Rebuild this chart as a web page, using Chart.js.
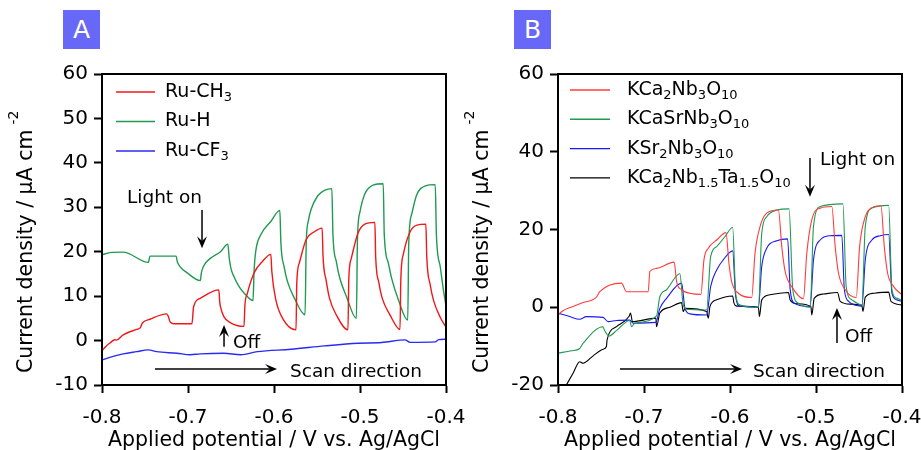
<!DOCTYPE html>
<html>
<head>
<meta charset="utf-8">
<title>Photocurrent under chopped light</title>
<script src="https://cdn.jsdelivr.net/npm/chart.js@4.4.1/dist/chart.umd.min.js"></script>
<style>
  body { margin: 0; background: #fff; }
  .panel { position: absolute; left: 0; top: 0; width: 921px; height: 450px; }
  .badge { position: absolute; top: 10px; width: 37px; height: 39px; background: #6868f8;
           color: #fff; font: 25px "DejaVu Sans", sans-serif; text-align: center; line-height: 39px; }
</style>
</head>
<body>
<div class="panel"><canvas id="chartA"></canvas></div>
<div class="panel"><canvas id="chartB"></canvas></div>
<div class="badge" style="left:63px">A</div>
<div class="badge" style="left:514px">B</div>

<script>
// Axis ticks (shared x, separate y for each panel)
const potentialTicks = [-0.8, -0.7, -0.6, -0.5, -0.4];
const potentialLabels = ['-0.8', '-0.7', '-0.6', '-0.5', '-0.4'];
const currentTicksA = [-10, 0, 10, 20, 30, 40, 50, 60];
const currentTicksB = [-20, 0, 20, 40, 60];

// Panel A: [potential V, current density uA cm-2]
const ruCH3 = [
    [-0.800, -2.3], [-0.795, -1.2], [-0.791, -0.6], [-0.785, 0.2], [-0.7832, 0.1], [-0.7754, 1.3],
    [-0.760, 2.5], [-0.7559, 2.8], [-0.7528, 4.0], [-0.7442, 4.8], [-0.7247, 6.0], [-0.7230, 5.5],
    [-0.7208, 4.2], [-0.7169, 3.8], [-0.6954, 3.8],
    [-0.6935, 7.6], [-0.6857, 9.5], [-0.6642, 11.4],
    [-0.6630, 8.5], [-0.6622, 7.6], [-0.6583, 5.4], [-0.6505, 4.0], [-0.6349, 3.2],
    [-0.6338, 8.0], [-0.6310, 10.6], [-0.6232, 15.2], [-0.6135, 17.8], [-0.6037, 19.4],
    [-0.6025, 15.5], [-0.5979, 9.2], [-0.5900, 5.0], [-0.5744, 2.4],
    [-0.5735, 13.0], [-0.5705, 17.5], [-0.5627, 22.7], [-0.5530, 24.5], [-0.5440, 25.3],
    [-0.5430, 19.0], [-0.5393, 13.5], [-0.5354, 9.5], [-0.5276, 5.8], [-0.5140, 2.4],
    [-0.5130, 14.0], [-0.5101, 18.5], [-0.5023, 24.2], [-0.4944, 26.2], [-0.4827, 26.6],
    [-0.4818, 19.0], [-0.4780, 13.0], [-0.4741, 9.5], [-0.4652, 5.8], [-0.4535, 2.5],
    [-0.4525, 14.0], [-0.4495, 19.5], [-0.4417, 24.5], [-0.4339, 26.0], [-0.4234, 26.2],
    [-0.4224, 19.0], [-0.4183, 12.5], [-0.4144, 9.0], [-0.4066, 5.2], [-0.4000, 3.0]
];
const ruH = [
    [-0.800, 19.3], [-0.791, 19.8], [-0.7754, 19.9], [-0.7461, 17.6], [-0.7442, 19.0], [-0.7138, 19.0],
    [-0.7125, 17.8], [-0.7091, 16.6], [-0.7013, 15.3], [-0.6857, 13.5],
    [-0.6845, 15.2], [-0.6818, 16.8], [-0.6740, 18.5], [-0.6622, 20.0], [-0.6537, 21.7],
    [-0.6520, 18.5], [-0.6500, 16.2], [-0.6466, 14.4], [-0.6408, 12.2], [-0.6330, 10.3], [-0.6244, 9.0],
    [-0.6232, 15.5], [-0.6213, 20.0], [-0.6154, 23.8], [-0.6037, 26.8], [-0.5932, 29.3],
    [-0.5920, 22.0], [-0.5881, 16.5], [-0.5842, 13.2], [-0.5764, 9.6], [-0.5639, 5.8],
    [-0.5625, 22.0], [-0.5600, 27.0], [-0.5569, 29.5], [-0.5491, 32.6], [-0.5413, 33.8], [-0.5327, 34.2],
    [-0.5315, 24.0], [-0.5276, 17.8], [-0.5237, 14.2], [-0.5159, 10.0], [-0.5042, 5.0],
    [-0.5030, 22.5], [-0.5000, 29.0], [-0.4944, 33.0], [-0.4847, 35.0], [-0.4730, 35.3],
    [-0.4718, 24.0], [-0.4671, 17.5], [-0.4632, 14.0], [-0.4554, 9.2], [-0.4445, 4.6],
    [-0.4433, 22.0], [-0.4398, 28.5], [-0.4340, 32.8], [-0.4242, 34.8], [-0.4125, 35.1],
    [-0.4112, 24.0], [-0.4066, 16.5], [-0.4027, 11.0], [-0.4000, 7.8]
];
const ruCF3 = [
    [-0.800, -4.4], [-0.791, -3.8], [-0.7754, -3.0], [-0.7598, -2.5], [-0.7461, -2.1], [-0.7364, -2.5],
    [-0.7130, -2.85], [-0.6974, -3.2], [-0.6857, -3.0], [-0.6583, -2.85], [-0.6388, -3.2], [-0.6193, -2.5],
    [-0.5803, -1.95], [-0.5413, -1.2], [-0.5023, -0.6], [-0.4749, -0.45], [-0.4476, 0.15], [-0.4417, -0.4],
    [-0.4125, -0.3], [-0.4086, 0.2], [-0.4000, 0.3]
];

// Panel B
const kCa2Nb3O10 = [
    [-0.800, -2.0], [-0.7942, -0.9], [-0.7825, 0.2], [-0.7709, 1.2], [-0.7553, 2.6], [-0.7515, 4.0],
    [-0.7262, 6.2], [-0.7204, 4.0], [-0.6951, 4.0],
    [-0.6932, 9.2], [-0.6854, 10.0], [-0.6649, 11.6],
    [-0.6621, 6.6], [-0.6563, 4.5], [-0.6466, 3.6], [-0.6338, 3.3],
    [-0.6303, 12.2], [-0.6252, 15.2], [-0.6155, 17.3], [-0.6047, 19.2],
    [-0.6012, 11.3], [-0.5981, 6.6], [-0.5903, 3.6], [-0.5748, 2.5],
    [-0.5709, 13.9], [-0.5650, 20.8], [-0.5573, 24.2], [-0.5437, 25.0],
    [-0.5398, 15.6], [-0.5359, 9.2], [-0.5282, 5.3], [-0.5146, 2.2],
    [-0.5107, 13.9], [-0.5049, 22.5], [-0.4951, 25.5], [-0.4816, 25.9],
    [-0.4777, 15.6], [-0.4738, 8.75], [-0.4660, 4.5], [-0.4532, 2.5],
    [-0.4493, 15.6], [-0.4427, 23.3], [-0.4350, 25.6], [-0.4245, 26.1],
    [-0.4206, 15.6], [-0.4167, 8.75], [-0.4097, 5.3], [-0.4000, 3.2]
];
const kCaSrNb3O10 = [
    [-0.800, -11.8], [-0.7845, -11.2], [-0.7748, -10.6], [-0.7709, -9.3], [-0.7476, -5.0], [-0.7464, -5.7],
    [-0.7406, -7.4], [-0.7320, -6.0], [-0.7165, -3.4], [-0.7146, -5.0], [-0.7107, -4.1], [-0.6854, -2.2],
    [-0.6816, 2.7], [-0.6738, 4.5], [-0.6583, 8.6],
    [-0.6544, 0.6], [-0.6505, -0.5], [-0.6272, -0.7],
    [-0.6225, 13.0], [-0.6155, 15.6], [-0.6058, 18.2], [-0.5969, 20.5],
    [-0.5934, 3.6], [-0.5883, 0.6], [-0.5670, 0.0],
    [-0.5631, 19.0], [-0.5573, 23.3], [-0.5456, 25.0], [-0.5313, 25.3],
    [-0.5270, 4.5], [-0.5204, 1.0], [-0.5068, 0.0],
    [-0.5029, 20.8], [-0.4951, 25.9], [-0.4687, 26.6],
    [-0.4649, 5.3], [-0.4583, 1.9], [-0.4466, 0.6],
    [-0.4427, 20.8], [-0.4350, 25.5], [-0.4155, 26.2],
    [-0.4117, 4.5], [-0.4058, 2.3], [-0.4000, 1.7]
];
const kSr2Nb3O10 = [
    [-0.800, -1.5], [-0.7864, -2.4], [-0.7748, -3.1], [-0.7670, -2.4], [-0.7476, -2.6], [-0.7417, -3.7],
    [-0.7320, -3.4], [-0.7165, -3.3], [-0.7126, -4.1], [-0.6862, -3.9],
    [-0.6816, -0.3], [-0.6738, 2.3], [-0.6563, 6.2],
    [-0.6524, -0.3], [-0.6466, -1.7], [-0.6272, -2.0],
    [-0.6225, 5.3], [-0.6155, 9.6], [-0.6078, 12.2], [-0.5969, 14.5],
    [-0.5934, 2.7], [-0.5883, 0.3], [-0.5670, 0.0],
    [-0.5631, 10.5], [-0.5573, 15.2], [-0.5456, 17.1], [-0.5330, 17.6],
    [-0.5300, 4.5], [-0.5250, 1.0], [-0.5068, 0.2],
    [-0.5029, 12.2], [-0.4951, 17.3], [-0.4835, 18.4], [-0.4700, 18.5],
    [-0.4670, 4.5], [-0.4620, 1.5], [-0.4466, 0.3],
    [-0.4427, 12.2], [-0.4350, 17.3], [-0.4252, 18.4], [-0.4155, 18.7],
    [-0.4117, 3.6], [-0.4058, 1.9], [-0.4000, 1.5]
];
const kCa2NbTaO10 = [
    [-0.7903, -20.0], [-0.7825, -17.0], [-0.7748, -14.0], [-0.7709, -14.4], [-0.7592, -12.5],
    [-0.7476, -10.8], [-0.7437, -10.1], [-0.7429, -8.4], [-0.7320, -5.0], [-0.7173, -2.3],
    [-0.7157, -1.5], [-0.7134, -3.7], [-0.6862, -2.8], [-0.6854, -5.0],
    [-0.6816, -1.5], [-0.6699, 0.0], [-0.6563, 1.2],
    [-0.6544, -1.1], [-0.6524, -0.3], [-0.6272, -1.1], [-0.6252, -2.8],
    [-0.6233, 0.2], [-0.6155, 1.9], [-0.5969, 2.9],
    [-0.5953, 1.0], [-0.5922, 0.3], [-0.5670, 0.0], [-0.5658, -2.4],
    [-0.5631, 1.9], [-0.5534, 3.2], [-0.5320, 3.8],
    [-0.5301, 1.9], [-0.5223, 0.9], [-0.5060, 0.2], [-0.5049, -2.0],
    [-0.5021, 2.3], [-0.4913, 3.4], [-0.4750, 3.8],
    [-0.4719, 1.5], [-0.4602, 0.8], [-0.4466, 0.4], [-0.4454, -1.1],
    [-0.4427, 2.6], [-0.4330, 3.6], [-0.4155, 3.9],
    [-0.4128, 1.5], [-0.4000, 0.6]
];

Chart.defaults.font.family = '"DejaVu Sans", Verdana, sans-serif';
Chart.defaults.color = '#000';

/**
 * Draw text where _{..} is a subscript and ^{..} a superscript
 */
function drawRich(ctx, text, x, y, size) {
    const parts = text.split(/([_^]\{[^}]*\})/).filter(Boolean);
    let cx = x;
    parts.forEach((p) => {
        const sub = p.startsWith('_{');
        const sup = p.startsWith('^{');
        const s = sub || sup ? p.slice(2, -1) : p;
        const fs = sub || sup ? Math.round(size * 0.7) : size;
        ctx.font = `${fs}px "DejaVu Sans"`;
        if (sup) cx += 5;
        const dy = sub ? size * 0.3 : sup ? -size * 0.62 : 0;
        ctx.fillText(s, cx, y + dy);
        cx += ctx.measureText(s).width;
    });
}

function drawArrow(ctx, x1, y1, x2, y2) {
    const ang = Math.atan2(y2 - y1, x2 - x1);
    const len = 12, half = 5;
    ctx.beginPath();
    ctx.moveTo(x1, y1);
    ctx.lineTo(x2 - Math.cos(ang) * len * 0.6, y2 - Math.sin(ang) * len * 0.6);
    ctx.stroke();
    ctx.save();
    ctx.translate(x2, y2);
    ctx.rotate(ang);
    ctx.beginPath();
    ctx.moveTo(0, 0);
    ctx.lineTo(-len, -half);
    ctx.lineTo(-len * 0.6, 0);
    ctx.lineTo(-len, half);
    ctx.closePath();
    ctx.fill();
    ctx.restore();
}

/**
 * Frame, legend with subscripts, axis titles and the light on/off notes
 */
function decor(cfg) {
    return {
        id: 'decor',
        afterDraw(chart) {
            const { ctx, chartArea: a, scales: { x, y } } = chart;
            ctx.save();
            ctx.strokeStyle = '#000';
            ctx.fillStyle = '#000';
            ctx.lineWidth = 2;
            ctx.strokeRect(a.left, a.top, a.right - a.left, a.bottom - a.top);

            // legend
            ctx.textBaseline = 'middle';
            ctx.textAlign = 'left';
            cfg.series.forEach((s, i) => {
                const ly = a.top + cfg.legend.top + i * cfg.legend.gap;
                ctx.strokeStyle = s.color;
                ctx.lineWidth = 1.4;
                ctx.beginPath();
                ctx.moveTo(a.left + cfg.legend.x0, ly);
                ctx.lineTo(a.left + cfg.legend.x1, ly);
                ctx.stroke();
                ctx.fillStyle = '#000';
                drawRich(ctx, s.label, a.left + cfg.legend.tx, ly, 19);
            });

            // notes and arrows
            ctx.strokeStyle = '#000';
            ctx.lineWidth = 1.5;
            cfg.notes.forEach((n) => {
                ctx.font = '18.5px "DejaVu Sans"';
                ctx.fillText(n.text, x.getPixelForValue(n.x), y.getPixelForValue(n.y));
                const [x1, y1, x2, y2] = n.arrow;
                drawArrow(ctx, x.getPixelForValue(x1), y.getPixelForValue(y1),
                    x.getPixelForValue(x2), y.getPixelForValue(y2));
            });

            // axis titles
            ctx.font = '20.5px "DejaVu Sans"';
            ctx.textAlign = 'center';
            ctx.textBaseline = 'alphabetic';
            ctx.fillText('Applied potential / V vs. Ag/AgCl', (a.left + a.right) / 2, 446);
            ctx.save();
            ctx.translate(a.left - 75, 373);
            ctx.rotate(-Math.PI / 2);
            ctx.textAlign = 'left';
            ctx.textBaseline = 'middle';
            drawRich(ctx, 'Current density / µA cm^{-2}', 0, 0, 20.5);
            ctx.restore();
            ctx.restore();
        },
    };
}

function makeChart(canvasId, cfg) {
    return new Chart(document.getElementById(canvasId), {
        type: 'line',
        data: {
            datasets: cfg.series.map((s) => ({
                label: s.label,
                data: s.points.map(([v, j]) => ({ x: v, y: j })),
                borderColor: s.color,
                borderWidth: cfg.lineWidth,
                pointRadius: 0,
                fill: false,
                cubicInterpolationMode: 'monotone',
            })),
        },
        options: {
            responsive: true,
            maintainAspectRatio: false,
            animation: false,
            layout: { padding: cfg.padding },
            plugins: { legend: { display: false }, tooltip: { enabled: false } },
            scales: {
                x: {
                    type: 'linear',
                    min: -0.8,
                    max: -0.4,
                    // fixed height, and let the end labels overhang like the original
                    afterFit: (s) => { s.height = 65; s.paddingLeft = 0; s.paddingRight = 0; },
                    afterBuildTicks: (s) => { s.ticks = potentialTicks.map((v) => ({ value: v })); },
                    ticks: {
                        callback: (v, i) => potentialLabels[i],
                        font: { size: 20 },
                        color: '#000',
                        padding: 13,
                        maxRotation: 0,
                        autoSkip: false,
                    },
                    grid: { drawOnChartArea: false, tickLength: 8, tickWidth: 2, tickColor: '#000' },
                    border: { color: '#000', width: 2 },
                },
                y: {
                    type: 'linear',
                    min: cfg.yTicks[0],
                    max: cfg.yTicks[cfg.yTicks.length - 1],
                    afterFit: (s) => { s.width = cfg.yWidth; s.paddingTop = 0; s.paddingBottom = 0; },
                    afterBuildTicks: (s) => { s.ticks = cfg.yTicks.map((v) => ({ value: v })); },
                    ticks: {
                        callback: (v) => String(v),
                        font: { size: 20 },
                        color: '#000',
                        padding: 6,
                        autoSkip: false,
                    },
                    grid: { drawOnChartArea: false, tickLength: 8, tickWidth: 2, tickColor: '#000' },
                    border: { color: '#000', width: 2 },
                },
            },
        },
        plugins: [decor(cfg)],
    });
}

makeChart('chartA', {
    padding: { left: 0, top: 74, right: 475, bottom: 0 },
    yWidth: 102,
    yTicks: currentTicksA,
    lineWidth: 1.4,
    legend: { top: 18, gap: 29.5, x0: 14, x1: 53, tx: 63 },
    series: [
        { label: 'Ru-CH_{3}', color: '#f01818', points: ruCH3 },
        { label: 'Ru-H', color: '#1f9a50', points: ruH },
        { label: 'Ru-CF_{3}', color: '#2a2af5', points: ruCF3 },
    ],
    notes: [
        { text: 'Light on', x: -0.771, y: 32.1, arrow: [-0.6837, 29.4, -0.6837, 20.8] },
        { text: 'Off', x: -0.6477, y: -0.5, arrow: [-0.6581, -1.4, -0.6581, 3.5] },
        { text: 'Scan direction', x: -0.5814, y: -7.1, arrow: [-0.7384, -6.4, -0.5965, -6.4] },
    ],
});

makeChart('chartB', {
    padding: { left: 458, top: 74, right: 19, bottom: 0 },
    yWidth: 100,
    yTicks: currentTicksB,
    lineWidth: 1.1,
    legend: { top: 16, gap: 29.3, x0: 12, x1: 52, tx: 69 },
    series: [
        { label: 'KCa_{2}Nb_{3}O_{10}', color: '#ff3c3c', points: kCa2Nb3O10 },
        { label: 'KCaSrNb_{3}O_{10}', color: '#1f9a50', points: kCaSrNb3O10 },
        { label: 'KSr_{2}Nb_{3}O_{10}', color: '#1a1af5', points: kSr2Nb3O10 },
        { label: 'KCa_{2}Nb_{1.5}Ta_{1.5}O_{10}', color: '#000000', points: kCa2NbTaO10 },
    ],
    notes: [
        { text: 'Light on', x: -0.4953, y: 37.9, arrow: [-0.507, 38.4, -0.507, 28.4] },
        { text: 'Off', x: -0.4663, y: -7.7, arrow: [-0.4756, -9.2, -0.4756, -0.2] },
        { text: 'Scan direction', x: -0.5733, y: -16.7, arrow: [-0.7279, -15.9, -0.586, -15.9] },
    ],
});
</script>
</body>
</html>
